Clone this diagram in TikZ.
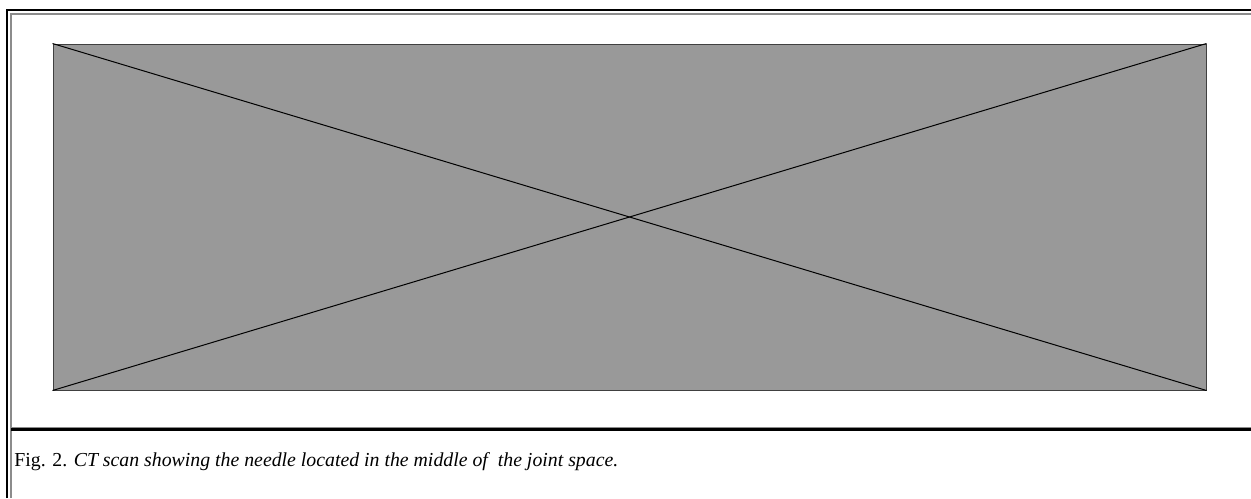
\documentclass[tikz,border=0pt]{standalone}
\usepackage{fontspec}
\setmainfont{Liberation Serif}
\usetikzlibrary{calc,positioning}

\begin{document}
\begin{tikzpicture}[
    x=0.5pt, y=-0.5pt,
    frame/.style={black, line width=1.3pt},
    inframe/.style={black!45, line width=0.7pt},
    scanbox/.style={rectangle, inner sep=0pt, minimum width=576.5pt, minimum height=173pt,
                    fill=black!40, draw=black!75, line width=0.5pt},
    cross/.style={black, line width=0.5pt},
    caption/.style={anchor=base west, inner sep=0pt, font=\fontsize{9.9}{12}\selectfont}
  ]

  \useasboundingbox (0,0) rectangle (1251,498);

  % frame
  \draw[frame]   (7,498) -- (7,10) -- (1251,10);
  \draw[inframe] (11,498) -- (11,14) -- (1251,14);
  \draw[inframe] (11,427.5) -- (1251,427.5);
  \draw[frame]   (11,429.5) -- (1251,429.5);

  \node (scan)    [scanbox] at (629.5,217)  {};

  \draw[cross] (scan.north west) -- (scan.south east);
  \draw[cross] (scan.south west) -- (scan.north east);

  \node (caption) [caption] at (14,466)     {Fig. 2. \textit{CT scan showing the needle located in the middle of\ \ the joint space.}};
\end{tikzpicture}
\end{document}
